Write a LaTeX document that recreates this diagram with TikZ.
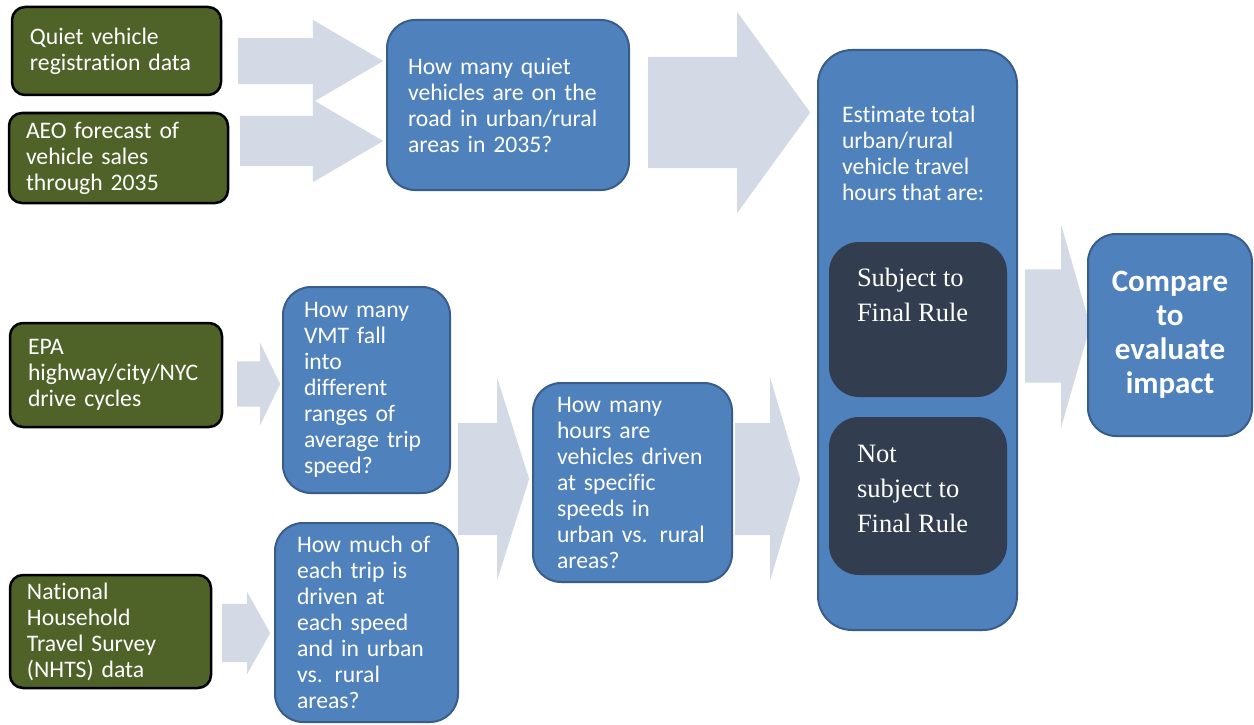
\documentclass[tikz,border=0pt]{standalone}
\usepackage{fontspec}
\setmainfont{Carlito}[Ligatures=NoCommon]
\newfontfamily\rulefont{Liberation Serif}
\usepackage{xcolor}
\usetikzlibrary{shapes.arrows}

\definecolor{srcgreen}{HTML}{4F6228}
\definecolor{qblue}{HTML}{4F81BD}
\definecolor{qedge}{HTML}{385D8A}
\definecolor{ruledark}{HTML}{323E4F}
\definecolor{flowgray}{HTML}{D3DAE6}

\begin{document}
\begin{tikzpicture}[x=1pt,y=-1pt,
    source/.style={draw=black, line width=2.5pt, fill=srcgreen, rounded corners=13pt, text=white, align=left, font=\fontsize{23.7}{26}\selectfont, inner ysep=0pt},
    question/.style={draw=qedge, line width=2pt, fill=qblue, rounded corners=28pt, text=white, align=left, font=\fontsize{23.7}{26}\selectfont, inner ysep=0pt},
    rulebox/.style={fill=ruledark, rounded corners=30pt, text=white, font=\rulefont\fontsize{26.5}{35}\selectfont, inner xsep=28pt, inner ysep=0pt},
    flow/.style={single arrow, fill=flowgray, inner xsep=0pt, anchor=tail}]
        \path[fill=white] (0,0) rectangle (1254,725);
        \useasboundingbox (0,0) rectangle (1254,725);

        % flow arrows
        \node[flow, minimum height=145pt, inner ysep=23pt, single arrow head extend=18pt, single arrow tip angle=60.7] (a1) at (238,61) {};
        \node[flow, minimum height=143pt, inner ysep=25pt, single arrow head extend=16pt, single arrow tip angle=60.7] (a2) at (240,141) {};
        \node[flow, minimum height=162pt, inner ysep=55.5pt, single arrow head extend=45pt, single arrow tip angle=108] (a3) at (648,112.5) {};
        \node[flow, minimum height=43pt, inner ysep=22.5pt, single arrow head extend=18.5pt, single arrow tip angle=128] (a4) at (237,384) {};
        \node[flow, minimum height=48pt, inner ysep=29pt, single arrow head extend=12pt, single arrow tip angle=121.4] (a5) at (222,633) {};
        \node[flow, minimum height=71pt, inner ysep=56pt, single arrow head extend=45pt, single arrow tip angle=144.8] (a6) at (458,479) {};
        \node[flow, minimum height=65pt, inner ysep=56pt, single arrow head extend=45pt, single arrow tip angle=147] (a7) at (735,479) {};
        \node[flow, minimum height=65pt, inner ysep=56.5pt, single arrow head extend=44.5pt, single arrow tip angle=148] (a8) at (1025,326) {};

        % data sources
        \node[source, inner xsep=18pt, text width=173pt, minimum height=88pt] (qreg) at (116.5,51) {Quiet vehicle\\registration data}; %registration
        \node[source, inner xsep=17pt, text width=185pt, minimum height=90pt] (aeo) at (118.5,158) {AEO forecast of\\vehicle sales\\through 2035}; %aeo
        \node[source, inner xsep=18pt, text width=176pt, minimum height=104pt] (epa) at (116,375) {EPA\\highway/city/NYC\\drive cycles}; %epa
        \node[source, inner xsep=17pt, text width=167pt, minimum height=113pt] (nhts) at (110.5,631.5) {National\\Household\\Travel Survey\\(NHTS) data}; %nhts

        % questions
        \node[question, inner xsep=21pt, text width=200pt, minimum height=170pt] (qveh) at (508,105) {How many quiet\\vehicles are on the\\road in urban/rural\\areas in 2035?};
        \node[question, inner xsep=21pt, text width=125pt, minimum height=206pt] (vmt) at (366.5,390) {How many\\VMT fall\\into\\different\\ranges of\\average trip\\speed?};
        \node[question, inner xsep=22pt, text width=139pt, minimum height=199pt] (share) at (366.5,622.5) {How much of\\each trip is\\driven at\\each speed\\and in urban\\vs. rural\\areas?};
        \node[question, inner xsep=24pt, text width=151pt, minimum height=199pt] (hours) at (632.5,482.5) {How many\\hours are\\vehicles driven\\at specific\\speeds in\\urban vs. rural\\areas?};

        % estimate
        \node[question, rounded corners=34pt, inner xsep=24pt] (est) at (917.5,340) {\parbox[c][580pt][t]{151pt}{\vspace*{53.8pt}\strut Estimate total\\urban/rural\\vehicle travel\\hours that are:}};
        \node[rulebox] (subj) at (918,319.5) {\parbox[c][155pt][t]{122pt}{\vspace*{19.5pt}\strut Subject to\\Final Rule}}; %subject
        \node[rulebox] (notsubj) at (918,496) {\parbox[c][158pt][t]{122pt}{\vspace*{20.5pt}\strut Not\\subject to\\Final Rule}}; %not subject

        % result
        \node[question, align=center, inner xsep=10pt, minimum width=164pt, minimum height=202pt, font=\fontsize{31}{34}\selectfont\bfseries] (cmp) at (1170,335) {Compare\\to\\evaluate\\impact};
    \end{tikzpicture}
\end{document}
